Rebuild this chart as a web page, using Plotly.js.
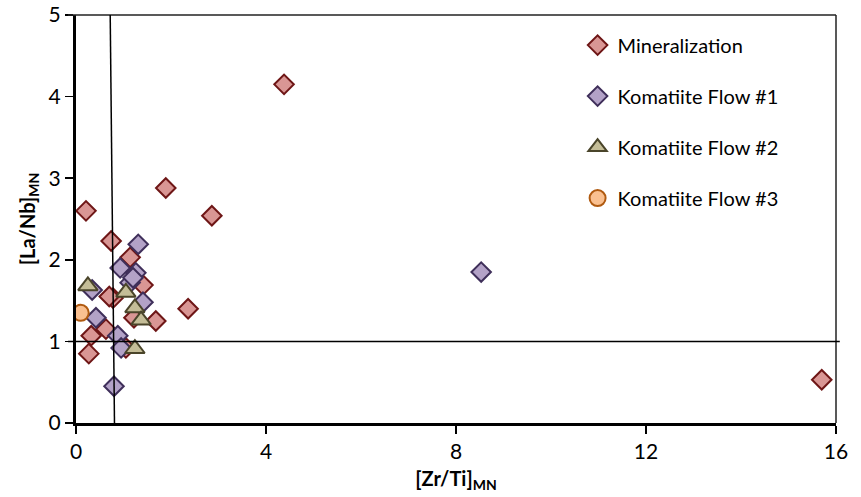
<!DOCTYPE html>
<html>
<head>
<meta charset="utf-8">
<script src="https://cdn.plot.ly/plotly-3.0.1.min.js"></script>
<style>html,body{margin:0;padding:0;background:#fff;}#chart{width:861px;height:497px;}</style>
</head>
<body>
<div id="chart"></div>
<script>
// Data
const minX = [4.38, 15.7, 1.89, 2.86, 0.21, 0.74, 1.14, 2.36, 1.68, 1.41, 0.78, 0.63, 0.32, 0.27, 1.05, 1.22, 0.70];
const minY = [4.15, 0.53, 2.88, 2.54, 2.60, 2.23, 2.03, 1.40, 1.25, 1.69, 1.53, 1.15, 1.07, 0.85, 0.92, 1.29, 1.55];

const f1X = [8.53, 1.31, 0.93, 1.26, 1.14, 0.34, 0.42, 0.88, 0.95, 1.41, 0.80, 1.20];
const f1Y = [1.85, 2.19, 1.90, 1.84, 1.72, 1.63, 1.29, 1.07, 0.92, 1.48, 0.45, 1.78];

const f2X = [0.25, 1.05, 1.24, 1.37, 1.24];
const f2Y = [1.68, 1.60, 1.41, 1.26, 0.91];

const f3X = [0.10];
const f3Y = [1.35];

const seriesNames = ["Mineralization", "Komatiite Flow #1", "Komatiite Flow #2", "Komatiite Flow #3"];
const xTicks = [0, 4, 8, 12, 16];
const yTicks = [0, 1, 2, 3, 4, 5];

function tr(x, y, name, symbol, size, fill, line, grp) {
  return {
    x: x, y: y, name: name, type: 'scatter', mode: 'markers',
    legendgroup: grp,
    marker: {symbol: symbol, size: size, color: fill, line: {color: line, width: 2}}
  };
}

const data = [
  tr(minX, minY, seriesNames[0], 'diamond', 15, '#d99694', '#6e1616', 'a'),
  tr(f1X, f1Y, seriesNames[1], 'diamond', 15, '#b3a2c7', '#3f2f5a', 'b'),
  tr(f2X, f2Y, seriesNames[2], 'triangle-up', 17, '#c4bd97', '#4a452a', 'c'),
  tr(f3X, f3Y, seriesNames[3], 'circle', 16, '#fac090', '#b05a10', 'd')
];

const font = "Lato, 'Open Sans', sans-serif";

const layout = {
  width: 861, height: 497,
  margin: {l: 76, r: 25, t: 15, b: 74},
  paper_bgcolor: '#fff', plot_bgcolor: '#fff',
  font: {family: font, size: 20, color: '#000'},
  showlegend: true,
  legend: {
    x: 0.66, y: 0.974, xanchor: 'left', yanchor: 'top',
    font: {family: font, size: 20, color: '#000'},
    traceorder: 'grouped', tracegroupgap: 22,
    bgcolor: 'rgba(0,0,0,0)', itemwidth: 30
  },
  xaxis: {
    range: [0, 16], tickvals: xTicks, ticktext: xTicks.map(String),
    showgrid: false, zeroline: false,
    showline: true, linecolor: '#000', linewidth: 3,
    ticks: 'outside', ticklen: 8, tickwidth: 1.5, tickcolor: '#000',
    tickfont: {family: font, size: 21},
    title: {text: '<b>[Zr/Ti]<sub>MN</sub></b>', font: {family: font, size: 20}, standoff: 10}
  },
  yaxis: {
    range: [0, 5], tickvals: yTicks, ticktext: yTicks.map(String),
    showgrid: false, zeroline: false,
    showline: true, linecolor: '#000', linewidth: 3,
    ticks: 'outside', ticklen: 8, tickwidth: 1.5, tickcolor: '#000',
    tickfont: {family: font, size: 21},
    title: {text: '<b>[La/Nb]<sub>MN</sub></b>', font: {family: font, size: 20}, standoff: 8}
  },
  shapes: [
    {type: 'line', xref: 'paper', yref: 'paper', x0: -0.0105, x1: 1, y0: 1, y1: 1, line: {color: '#222', width: 1.5}},
    {type: 'line', xref: 'paper', yref: 'paper', x0: 1, x1: 1, y0: 0, y1: 1, line: {color: '#222', width: 1.5}},
    {type: 'line', xref: 'paper', yref: 'y', x0: -0.0105, x1: 1.005, y0: 1, y1: 1, line: {color: '#000', width: 1.5}},
    {type: 'line', xref: 'x', yref: 'y', x0: 0.72, x1: 0.81, y0: 5, y1: 0, line: {color: '#000', width: 1.5}}
  ]
};

Plotly.newPlot('chart', data, layout, {displayModeBar: false, staticPlot: true});
</script>
</body>
</html>
